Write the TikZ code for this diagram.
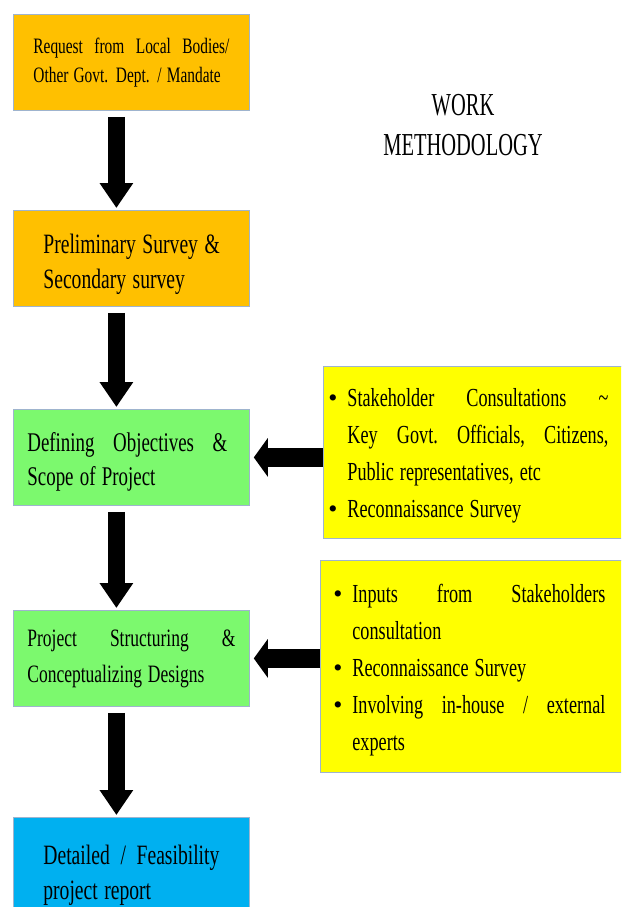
\documentclass[tikz,border=0pt]{standalone}
\usepackage{fontspec}
\setmainfont{Liberation Serif}
\usepackage{graphicx}
\usetikzlibrary{arrows.meta,positioning}
\usepackage{xcolor}
\definecolor{request}{HTML}{FFC000}
\definecolor{scope}{HTML}{7CF96E}
\definecolor{inputs}{HTML}{FFFF00}
\definecolor{report}{HTML}{00B0F0}
\definecolor{rim}{HTML}{9FB4CE}
% narrow lines, the picture's type is condensed
\newcommand{\sq}[2][0.7]{\scalebox{#1}[1]{#2}}
\newcommand{\fitline}[2]{\sq{\hbox to \dimexpr#1*10/7\relax{#2}}}
\newcommand{\bul}{\makebox[19pt][l]{\textbullet}}
\newcommand{\lift}[1]{\rule{0pt}{#1}}

\begin{document}
\begin{tikzpicture}[x=1pt,y=-1pt,
  stage/.style={draw=rim,line width=0.8pt,fill=#1,anchor=north west,
    minimum width=236pt,minimum height=96pt,inner sep=0pt,align=left},
  note/.style={draw=rim,line width=0.8pt,fill=inputs,anchor=north west,
    inner sep=0pt,align=left,font=\fontsize{26}{37}\selectfont},
  down/.style={line width=17pt,-{Triangle[width=32pt,length=25pt]},
    shorten <=6pt,shorten >=2pt},
  feed/.style={line width=19pt,-{Triangle[width=38pt,length=14pt]},
    shorten >=4pt},
]
  \clip (0,0) rectangle (621,907);

  % main chain
  \node[stage=request,text width=196pt,font=\fontsize{22}{29}\selectfont] (req) at (13,14)
    {\fitline{196pt}{Request\hfill from\hfill Local\hfill Bodies/}\\\sq{Other Govt. Dept. / Mandate}};
  \node[stage=request,text width=176pt,font=\fontsize{28}{35}\selectfont] (prelim) at (13,210)
    {\lift{31pt}\sq{Preliminary Survey \&}\\\sq{Secondary survey}};
  \node[stage=scope,text width=208pt,font=\fontsize{27}{34}\selectfont] (define) at (13,409)
    {\lift{27pt}\fitline{200pt}{Defining\hfill Objectives\hfill \&}\\\sq{Scope of Project}};
  \node[stage=scope,text width=208pt,font=\fontsize{25}{36}\selectfont] (struct) at (13,610)
    {\fitline{208pt}{Project\hfill Structuring\hfill \&}\\\sq{Conceptualizing Designs}};
  \node[stage=report,text width=176pt,minimum height=116pt,font=\fontsize{28}{35}\selectfont] (dpr) at (13,817)
    {\fitline{176pt}{Detailed\hfill /\hfill Feasibility}\\\sq{project report}};

  % side inputs
  \node[note,minimum width=302pt,minimum height=172pt,text width=292pt] (consult) at (323,366)
    {\lift{24pt}\bul\fitline{261pt}{Stakeholder\hfill Consultations\hfill \textasciitilde}\\
     \hspace*{19pt}\fitline{261pt}{Key\hfill Govt.\hfill Officials,\hfill Citizens,}\\
     \hspace*{19pt}\sq{Public representatives, etc}\\
     \bul\sq{Reconnaissance Survey}};
  \node[note,minimum width=305pt,minimum height=212pt,text width=279pt] (expert) at (320,560)
    {\lift{26pt}\bul\fitline{253pt}{Inputs\hfill from\hfill Stakeholders}\\
     \hspace*{19pt}\sq{consultation}\\
     \bul\sq{Reconnaissance Survey}\\
     \bul\fitline{253pt}{Involving\hfill in-house\hfill /\hfill external}\\
     \hspace*{19pt}\sq{experts}};

  \node[align=center,font=\fontsize{32}{40}\selectfont] (title) at (463,125)
    {\sq[0.64]{WORK}\\\sq[0.64]{METHODOLOGY}};

  % arrows
  \draw[down] ([xshift=-15pt]req.south) -- ([xshift=-15pt]prelim.north);
  \draw[down] ([xshift=-15pt]prelim.south) -- ([xshift=-15pt]define.north);
  \draw[down] ([xshift=-15pt]define.south) -- ([xshift=-15pt]struct.north);
  \draw[down] ([xshift=-15pt]struct.south) -- ([xshift=-15pt]dpr.north);
  \draw[feed] (consult.west |- define.east) -- (define.east);
  \draw[feed] (expert.west |- struct.east) -- (struct.east);
\end{tikzpicture}
\end{document}
